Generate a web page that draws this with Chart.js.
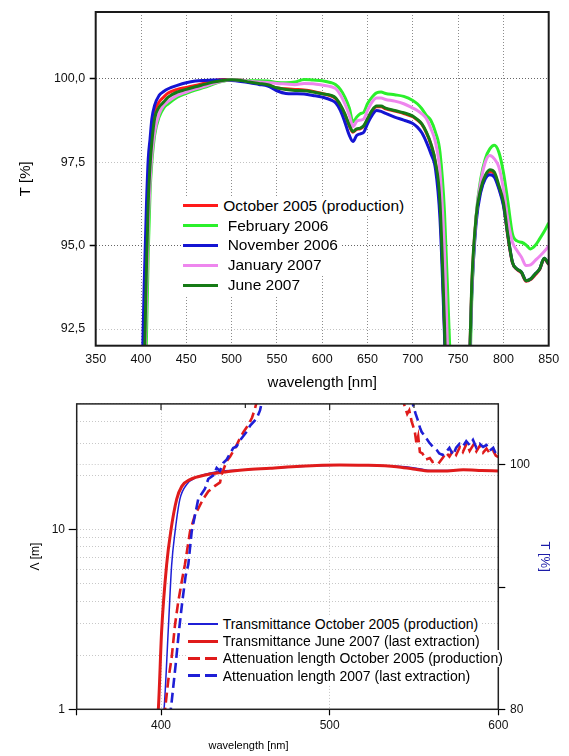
<!DOCTYPE html>
<html><head><meta charset="utf-8">
<script src="https://cdn.jsdelivr.net/npm/chart.js@4.4.1/dist/chart.umd.min.js"></script>
<style>
html,body{margin:0;padding:0;background:#fff;}
#wrap{position:relative;width:569px;height:756px;overflow:hidden;font-family:"Liberation Sans",Arial,sans-serif;}
canvas{position:absolute;left:0;}
#cTop{top:0;}
#cBot{top:392px;}
.row{position:absolute;display:flex;align-items:center;background:#fff;white-space:nowrap;color:#000;padding-right:2px;}
.sw{display:inline-block;flex:none;}
</style></head>
<body><div id="wrap">
<canvas id="cTop" width="569" height="392"></canvas>
<canvas id="cBot" width="569" height="364"></canvas>
</div>
<script>
// ================= TOP CHART DATA =================
const wavelength = [400,402,404,406,408,410,412,415,420,425,430,440,450,460,470,480,490,500,510,520,530,540,550,560,570,580,590,600,610,615,620,625,630,634,638,642,646,650,655,660,665,670,680,690,700,705,710,715,720,725,730,735,740,745,750,755,760,765,770,775,780,785,790,795,800,805,810,815,820,825,830,835,840,845,850];
const oct2005 = [87.5,90.5,93.0,95.3,97.0,97.9,98.5,99.0,99.3,99.45,
 99.57,99.68,99.74,99.8,99.87,99.94,99.98,99.98,99.96,99.91,
 99.86,99.82,99.72,99.7,99.68,99.66,99.62,99.56,99.48,99.4,
 99.2,98.93,98.58,98.4,98.48,98.5,98.58,98.78,99.03,99.16,
 99.16,99.1,99.03,98.96,98.86,98.76,98.63,98.38,98.03,97.47,
 96.25,92.5,88.0,86.0,85.0,86.0,89.0,93.7,95.85,96.65,
 97.05,97.22,97.15,96.75,96.25,95.25,94.48,94.28,94.18,93.93,
 93.98,94.12,94.28,94.6,94.43];
const feb2006 = [85.5,88.0,90.5,92.2,94.8,96.6,97.5,98.3,98.85,99.12,
 99.25,99.45,99.56,99.66,99.74,99.84,99.92,99.97,99.96,99.94,
 99.94,99.93,99.89,99.88,99.9,99.98,99.96,99.94,99.88,99.82,
 99.68,99.45,99.12,98.7,98.85,98.95,99.0,99.25,99.45,99.58,
 99.6,99.56,99.52,99.47,99.35,99.25,99.1,98.9,98.75,98.4,
 97.8,96.0,92.5,89.0,86.0,86.0,88.0,93.3,95.9,97.0,
 97.6,97.9,98.01,97.8,97.2,96.3,95.35,95.14,95.1,95.02,
 94.9,95.0,95.2,95.42,95.68];
const nov2006 = [88.0,92.0,94.3,96.2,97.6,98.2,98.8,99.2,99.5,99.62,
 99.7,99.8,99.88,99.93,99.95,99.96,99.96,99.95,99.92,99.88,
 99.83,99.78,99.64,99.56,99.55,99.54,99.5,99.45,99.36,99.27,
 99.05,98.7,98.3,98.12,98.3,98.35,98.4,98.65,98.9,99.05,
 99.02,98.96,98.85,98.76,98.66,98.55,98.38,98.1,97.75,97.3,
 95.8,92.3,88.0,86.0,85.0,86.0,89.0,93.5,95.7,96.6,
 97.0,97.12,97.05,96.7,96.2,95.3,94.5,94.3,94.2,93.95,
 94.0,94.15,94.3,94.62,94.45];
const jan2007 = [86.0,88.5,91.0,93.5,95.6,96.9,97.7,98.4,98.95,99.2,
 99.32,99.5,99.6,99.7,99.77,99.86,99.93,99.97,99.96,99.92,
 99.9,99.89,99.86,99.84,99.82,99.86,99.85,99.81,99.76,99.7,
 99.52,99.25,98.9,98.56,98.72,98.76,98.8,99.05,99.3,99.42,
 99.42,99.38,99.33,99.25,99.12,99.05,98.95,98.8,98.5,98.1,
 97.2,94.8,90.5,87.5,85.0,86.0,89.0,93.6,95.9,96.9,
 97.5,97.7,97.6,97.35,96.7,95.75,95.1,94.85,94.65,94.4,
 94.42,94.55,94.68,94.82,94.99];
const jun2007 = [87.0,89.5,91.8,94.3,96.3,97.4,98.1,98.8,99.15,99.3,
 99.45,99.6,99.68,99.76,99.83,99.9,99.95,99.97,99.95,99.9,
 99.86,99.82,99.73,99.68,99.65,99.64,99.6,99.55,99.5,99.42,
 99.22,98.95,98.6,98.42,98.5,98.52,98.6,98.8,99.05,99.18,
 99.18,99.12,99.05,98.98,98.88,98.78,98.65,98.4,98.05,97.5,
 96.3,92.6,88.0,86.0,85.0,86.0,89.0,93.8,95.9,96.7,
 97.1,97.27,97.2,96.8,96.3,95.3,94.5,94.3,94.2,93.95,
 94.0,94.15,94.3,94.62,94.45];
const topLabels = ['October 2005 (production)','February 2006','November 2006','January 2007','June 2007'];
const topXTicks = [350,400,450,500,550,600,650,700,750,800,850];
const topYTicks = [92.5,95,97.5,100];

// ================= BOTTOM CHART DATA =================
const transOct2005Wl = [401.2,401.8,404.3,406.3,408.3,411.2,415.2,421.1,433,450,470,490,510,530,545,552,560,570,580,590,600];
const transOct2005   = [79.5,80,86.5,91.8,94.5,97.2,98.4,99.0,99.45,99.6,99.78,99.92,100.0,99.95,99.85,99.72,99.55,99.55,99.6,99.55,99.5];
const transJun2007Wl = [398,398.4,400.4,403.3,405.7,409.3,412.3,417.2,427,438.9,450,464.6,482.4,506,520,539.7,549.5,559.4,567.3,579.2,590,600];
const transJun2007   = [79.5,80,86.5,91.8,94.5,97.2,98.25,98.8,99.2,99.45,99.6,99.73,99.9,100.0,99.98,99.86,99.67,99.5,99.5,99.6,99.55,99.5];
const attOct2005Wl = [401.8,402.4,404.3,406.3,408.3,410.2,412.2,414.2,417.2,420.1,425,428,432,435,436,438.9,441,444,446.8,449,451.7,454,455.7,457.5,500,543,544.6,546,547.2,548.6,550.5,551.5,552.5,553.5,555,557,559.4,561,563.4,565,567.3,569,571,573.2,575,577.2,579,581.2,583,585.1,587,589.1,591,593,595,597,598.5,600];
const attOct2005   = [0.9,1.0,1.45,1.94,2.95,3.96,5.09,6.41,9.76,12.0,14.8,16.3,17.5,18.3,20.3,24,25.5,28.5,32.2,35,38.1,42,47,55,null,55,48,44,46,40,35,30,33,27,26.5,24.5,25,23.8,24.2,23.6,25.2,26.8,25.5,27.5,26,28.8,27,30,27.4,29.5,27.2,29.3,26.8,28.2,26.5,27.4,25.8,25.3];
const att2007Wl = [405,405.5,406.3,408.7,410.6,412.6,414.6,416.2,418.2,422.1,426,428,431,433,434.9,437,438.9,442.8,444.8,447,450.8,453,456.7,458.7,460.5,500,549,549.5,551,552.5,553.5,554.5,556,557.5,559,561,562.4,563.4,565,567,569,571,573.2,575,577,579,581,583,585,587,589,591,593,595,597,599,600];
const att2007   = [0.9,0.95,1.1,1.78,2.71,3.96,5.54,6.41,9.76,14.8,16.8,19.1,20,22,21.2,23.5,24.5,28.4,29,31.5,35,38,41.5,46,55,null,55,49,44,40,37,35,33.5,32,30.5,29,28.4,27.8,26.5,26,27,28.5,26,28.5,30,29,31,29.5,31.5,28.5,30,28.8,29.5,27.5,28.5,25.8,26.5];
const botLabels = ['Transmittance October 2005 (production)','Transmittance June 2007 (last extraction)','Attenuation length October 2005 (production)','Attenuation length 2007 (last extraction)'];
const botXTicks = [350,400,450,500,550,600];
const botTopInnerTicks = [400,450,500,550];
const botLogTicks = [1,2,3,4,5,6,7,8,9,10,20,30,40,50];
const botRightTicks = [80,90,100];

// ================= HELPERS =================
const pts = (xs, ys) => xs.map((x, i) => ({x: x, y: ys[i]}));
Chart.defaults.font.family = '"Liberation Sans", Arial, sans-serif';
Chart.defaults.color = '#000';
const setTicks = arr => s => { s.ticks = arr.map(v => ({value: v})); };
const NONE = 'rgba(0,0,0,0)';

const framePlugin = {
  id: 'frame',
  afterDraw(chart, args, opts) {
    const {ctx, chartArea: a} = chart;
    ctx.save();
    ctx.strokeStyle = opts.color || '#000';
    ctx.lineWidth = opts.width || 1;
    ctx.strokeRect(a.left, a.top, a.right - a.left, a.bottom - a.top);
    if (opts.topInnerTicks) {
      const xs = chart.scales.x;
      ctx.lineWidth = 1.2;
      opts.topInnerTicks.forEach(v => {
        const px = xs.getPixelForValue(v);
        const len = (v % 100 === 0) ? 6 : 4;
        ctx.beginPath();
        ctx.moveTo(px, a.top);
        ctx.lineTo(px, a.top + len);
        ctx.stroke();
      });
    }
    ctx.restore();
  }
};
const textPlugin = {
  id: 'freeText',
  afterDraw(chart, args, opts) {
    if (!opts.items) return;
    const ctx = chart.ctx;
    ctx.save();
    opts.items.forEach(it => {
      ctx.font = it.font;
      ctx.fillStyle = it.color || '#000';
      ctx.textAlign = 'center';
      ctx.textBaseline = 'middle';
      ctx.fillText(it.text, it.x, it.y);
    });
    ctx.restore();
  }
};

// ================= TOP CHART =================
const topColors = ['#ff1a1a', '#2bf02b', '#1414d2', '#ee86ee', '#157a15'];
const topValues = [oct2005, feb2006, nov2006, jan2007, jun2007];
new Chart(document.getElementById('cTop'), {
  type: 'line',
  data: {
    datasets: topValues.map((vals, i) => ({
      label: topLabels[i], data: pts(wavelength, vals),
      borderColor: topColors[i], backgroundColor: topColors[i],
      borderWidth: 3, pointRadius: 0, fill: false, order: 5 - i,
      cubicInterpolationMode: 'monotone'
    }))
  },
  options: {
    responsive: false, animation: false, events: [],
    layout: {padding: {left: 0, top: 9, right: 20.3, bottom: 0}},
    plugins: {legend: {display: false}, tooltip: {enabled: false}, frame: {color: '#1a1a1a', width: 2}},
    scales: {
      x: {
        type: 'linear', min: 350, max: 850,
        afterBuildTicks: setTicks(topXTicks),
        afterFit: s => { s.height = 46.3; },
        ticks: {autoSkip: false, maxRotation: 0, padding: 6, font: {size: 12.5}, color: '#111', callback: v => String(v)},
        grid: {color: '#8c8c8c', lineWidth: 1, drawTicks: false},
        border: {display: false, dash: [1, 2]},
        title: {display: true, text: 'wavelength [nm]', font: {size: 15}, padding: {top: 0, bottom: 0}, color: '#000'}
      },
      y: {
        type: 'linear', min: 92, max: 102,
        afterBuildTicks: setTicks(topYTicks),
        afterFit: s => { s.width = 95.7; },
        ticks: {padding: 4.5, font: {size: 12.5}, color: '#111', callback: v => Number(v).toFixed(1).replace('.', ',')},
        grid: {
          color: c => (c.tick && c.tick.value % 5 === 0) ? '#666' : '#c2c2c2',
          tickColor: c => (c.tick && c.tick.value % 5 === 0) ? '#000' : NONE,
          tickLength: 6, tickWidth: 1.5, lineWidth: 1
        },
        border: {display: false, dash: [1, 2]},
        title: {display: true, text: 'T [%]', font: {size: 15}, padding: {top: 16.5, bottom: 0}, color: '#000'}
      }
    }
  },
  plugins: [framePlugin]
});

// ================= BOTTOM CHART =================
const RED = '#e01b1b', BLUE = '#1f1fd6';
new Chart(document.getElementById('cBot'), {
  type: 'line',
  data: {
    datasets: [
      {label: botLabels[0], data: pts(transOct2005Wl, transOct2005), yAxisID: 'yR', borderColor: BLUE, borderWidth: 1.5, pointRadius: 0, order: 4, cubicInterpolationMode: 'monotone'},
      {label: botLabels[1], data: pts(transJun2007Wl, transJun2007), yAxisID: 'yR', borderColor: RED, borderWidth: 3, pointRadius: 0, order: 3, cubicInterpolationMode: 'monotone'},
      {label: botLabels[2], data: pts(attOct2005Wl, attOct2005), yAxisID: 'yL', borderColor: RED, borderWidth: 2.6, borderDash: [10, 5], pointRadius: 0, order: 2, tension: 0},
      {label: botLabels[3], data: pts(att2007Wl, att2007), yAxisID: 'yL', borderColor: BLUE, borderWidth: 2.6, borderDash: [10, 5], pointRadius: 0, order: 1, tension: 0}
    ]
  },
  options: {
    responsive: false, animation: false, events: [],
    layout: {padding: {left: 0, top: 7, right: 0, bottom: 0}},
    plugins: {
      legend: {display: false}, tooltip: {enabled: false},
      frame: {color: '#222', width: 1.5, topInnerTicks: botTopInnerTicks},
      freeText: {items: [{text: 'wavelength [nm]', x: 248.5, y: 353.7, font: '11px "Liberation Sans", Arial, sans-serif'}]}
    },
    scales: {
      x: {
        type: 'linear', min: 350, max: 600,
        afterBuildTicks: setTicks(botXTicks),
        afterFit: s => { s.height = 46.7; },
        ticks: {autoSkip: false, maxRotation: 0, padding: 3.5, font: {size: 12}, color: '#111', callback: v => (v % 100 === 0 ? String(v) : '')},
        grid: {
          color: c => (c.tick && (c.tick.value === 400 || c.tick.value === 500)) ? '#c4c4c4' : NONE,
          tickColor: c => (c.tick && (c.tick.value % 100 === 0 || c.tick.value === 350)) ? '#000' : NONE,
          tickLength: 6, tickWidth: 1.2
        },
        border: {display: false, dash: [1, 2]}
      },
      yL: {
        type: 'logarithmic', position: 'left', min: 1, max: 50,
        afterBuildTicks: setTicks(botLogTicks),
        afterFit: s => { s.width = 76.7; },
        ticks: {autoSkip: false, padding: 3.7, font: {size: 12}, color: '#111', callback: v => ((v === 1 || v === 10) ? String(v) : '')},
        grid: {
          color: '#c8c8c8',
          tickColor: c => (c.tick && (c.tick.value === 1 || c.tick.value === 10)) ? '#000' : NONE,
          tickLength: 8, tickWidth: 1.2
        },
        border: {display: false, dash: [1, 2]},
        title: {display: true, text: 'Λ [m]', font: {size: 12}, padding: {top: 28.8, bottom: 0}, color: '#000'}
      },
      yR: {
        type: 'linear', position: 'right', min: 80, max: 105,
        afterBuildTicks: setTicks(botRightTicks),
        afterFit: s => { s.width = 70.7; },
        ticks: {padding: 4.7, font: {size: 12}, color: '#111', callback: v => ((v === 80 || v === 100) ? String(v) : '')},
        grid: {
          drawOnChartArea: true,
          color: c => (c.tick && c.tick.value === 100) ? '#c8c8c8' : NONE,
          tickColor: '#000', tickLength: 7, tickWidth: 1.2
        },
        border: {display: false, dash: [1, 2]},
        title: {display: true, text: 'T [%]', font: {size: 13}, padding: {top: 16.2, bottom: 0}, color: '#1c1ca8'}
      }
    }
  },
  plugins: [framePlugin, textPlugin]
});

// ================= HTML LEGENDS =================
const wrap = document.getElementById('wrap');
function buildLegend(items, cfg) {
  items.forEach((it, i) => {
    const row = document.createElement('div');
    row.className = 'row';
    row.style.left = cfg.left + 'px';
    row.style.top = (cfg.top + i * cfg.step) + 'px';
    row.style.height = cfg.step + 'px';
    row.style.fontSize = cfg.fontSize + 'px';
    const sw = document.createElement('span');
    sw.className = 'sw';
    sw.style.width = cfg.swWidth + 'px';
    sw.style.height = it.width + 'px';
    sw.style.background = it.dash
      ? 'repeating-linear-gradient(to right, ' + it.color + ' 0 12px, rgba(0,0,0,0) 12px 17px)'
      : it.color;
    sw.style.marginRight = (cfg.gap + (it.indent || 0)) + 'px';
    const tx = document.createElement('span');
    tx.textContent = it.label;
    row.appendChild(sw);
    row.appendChild(tx);
    wrap.appendChild(row);
  });
}
buildLegend(topLabels.map((l, i) => ({label: l, color: topColors[i], width: 3, indent: i === 0 ? 0 : 4.4})),
  {left: 182.7, top: 196, step: 19.8, fontSize: 15.5, swWidth: 35.6, gap: 5});
buildLegend([
  {label: botLabels[0], color: BLUE, width: 1.5},
  {label: botLabels[1], color: RED, width: 3},
  {label: botLabels[2], color: RED, width: 3, dash: true},
  {label: botLabels[3], color: BLUE, width: 3, dash: true}
], {left: 187.7, top: 615.4, step: 17.2, fontSize: 14, swWidth: 30.6, gap: 4.4});
</script>
</body></html>
